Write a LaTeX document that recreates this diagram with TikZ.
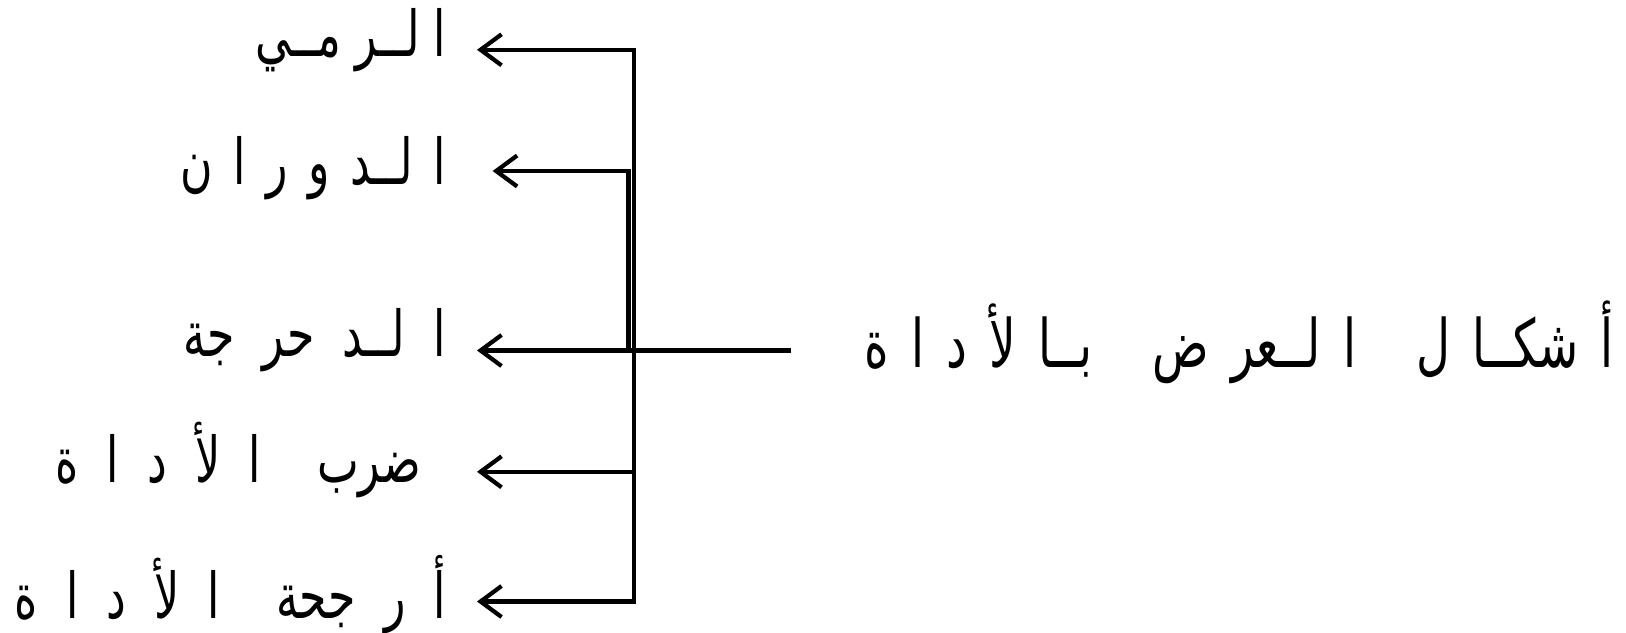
\documentclass[tikz,border=0pt]{standalone}
\usepackage{fontspec}
\usetikzlibrary{arrows.meta,positioning}
\newfontfamily\arabicfont[Script=Arabic, FakeStretch=0.7]{DejaVu Sans}
\TeXXeTstate=1
\newlength{\gpw}
\newlength{\wgpw}
\newcommand{\gp}{\hspace{\gpw}}
\newcommand{\wgp}{\hspace{\wgpw}}
\newcommand{\ar}[1]{\arabicfont\beginR #1\endR}
\begin{document}
\begin{tikzpicture}[line width=1.2pt,
  arr/.style={-{Straight Barb[length=2.1mm, width=3.1mm]}, line width=1.2pt},
  lbl/.style={inner sep=0pt, anchor=east, font=\fontsize{18}{21}\selectfont\setlength{\gpw}{8pt}\setlength{\wgpw}{16pt}},
  ttl/.style={inner sep=0pt, anchor=east, font=\fontsize{19}{22}\selectfont\setlength{\gpw}{6.3pt}\setlength{\wgpw}{17pt}}]
  \useasboundingbox (0,0) rectangle (16.26,6.32);
  \coordinate (hub) at (6.336,2.815);
  \coordinate (hubb) at (6.284,2.815);
  \coordinate (lineend) at (7.91,2.815);
  \coordinate (t1) at (4.77,5.822);
  \coordinate (t2) at (4.926,4.61);
  \coordinate (t3) at (4.77,2.815);
  \coordinate (t4) at (4.77,1.602);
  \coordinate (t5) at (4.77,0.305);
  \node[ttl] (title) at (16.16,2.90) {\ar{أ\gp شكــا\gp ل\wgp ا\gp لــعر\gp ض\wgp بــا\gp لأ\gp د\gp ا\gp ة}};
  \node[lbl, left=0.29cm of t1, yshift=0.1cm] (rami) {\setlength{\gpw}{4pt}\ar{ا\gp لــر\gp مــي}};
  \node[lbl, left=0.45cm of t2, yshift=0.03cm] (dawaran) {\setlength{\gpw}{5.8pt}\ar{ا\gp لــد\gp و\gp ر\gp ا\gp ن}};
  \node[lbl, left=0.29cm of t3, yshift=0.1cm] (dahraja) {\ar{ا\gp لــد\gp حر\gp جة}};
  \node[lbl, left=0.54cm of t4, yshift=0.12cm] (darb) {\ar{ضرب\wgp ا\gp لأ\gp د\gp ا\gp ة}};
  \node[lbl, left=0.29cm of t5, yshift=0.07cm] (urjuha) {\ar{أ\gp ر\gp جحة\wgp ا\gp لأ\gp د\gp ا\gp ة}};
  \draw (lineend) -- (hub);
  \draw[arr] (hub) |- (t1);
  \draw[arr] (hubb) |- (t2);
  \draw[arr] (hub) -- (t3);
  \draw[arr] (hub) |- (t4);
  \draw[arr] (hub) |- (t5);
\end{tikzpicture}
\end{document}
